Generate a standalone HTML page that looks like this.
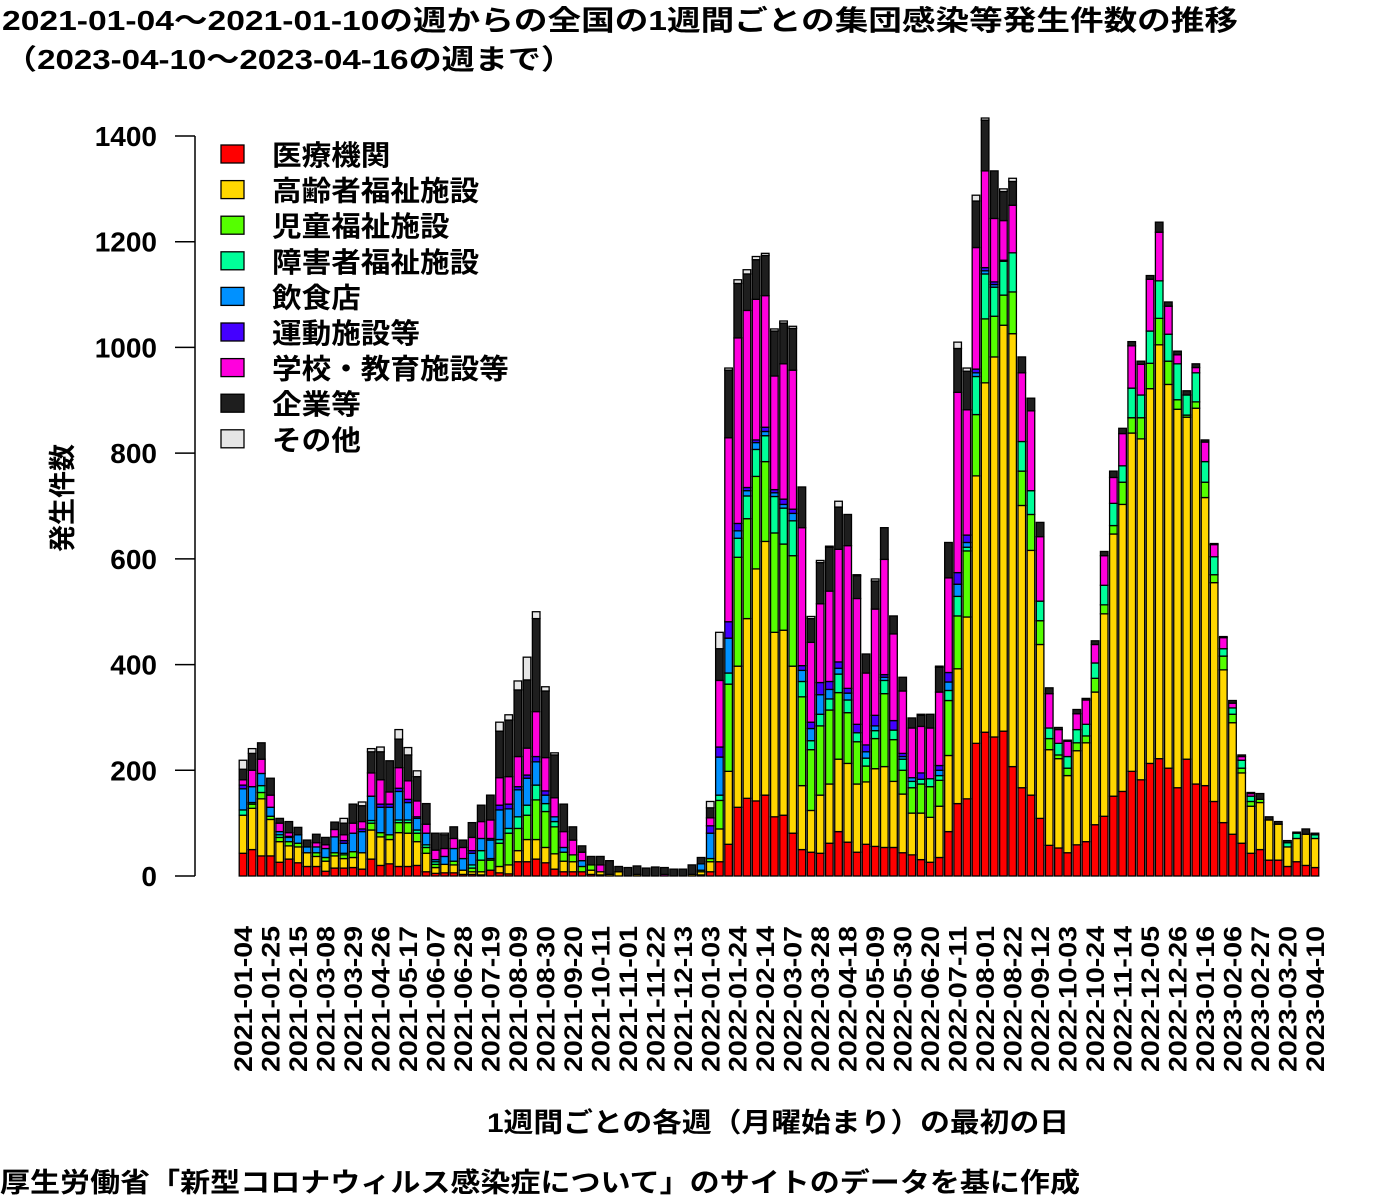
<!DOCTYPE html>
<html><head><meta charset="utf-8"><style>
html,body{margin:0;padding:0;background:#fff;}
svg{display:block;}
text{font-family:"Liberation Sans","Noto Sans CJK JP",sans-serif;}
</style></head><body>
<svg id="chart" width="1400" height="1200" viewBox="0 0 1400 1200" xmlns="http://www.w3.org/2000/svg">
<text x="2" y="30" font-size="28" font-weight="bold" textLength="1236" lengthAdjust="spacingAndGlyphs">2021-01-04～2021-01-10の週からの全国の1週間ごとの集団感染等発生件数の推移</text>
<text x="4" y="69" font-size="28" font-weight="bold" textLength="570" lengthAdjust="spacingAndGlyphs">（2023-04-10～2023-04-16の週まで）</text>
<g id="bars"></g>
<g id="yaxis"></g>
<g id="xaxis"></g>
<text transform="translate(72,498) rotate(-90)" text-anchor="middle" font-size="27" font-weight="bold">発生件数</text>
<text x="778" y="1132" text-anchor="middle" font-size="27" font-weight="bold" textLength="582" lengthAdjust="spacingAndGlyphs">1週間ごとの各週（月曜始まり）の最初の日</text>
<text x="0" y="1192" font-size="27" font-weight="bold" textLength="1080" lengthAdjust="spacingAndGlyphs">厚生労働省「新型コロナウィルス感染症について」のサイトのデータを基に作成</text>
<g id="legend"></g>
</svg>
<script>
const seriesNames = ["医療機関","高齢者福祉施設","児童福祉施設","障害者福祉施設","飲食店","運動施設等","学校・教育施設等","企業等","その他"];
const seriesColors = ["#ff0000","#ffd700","#55ff00","#00ff99","#0091ff","#4400ff","#ff00dd","#1e1e1e","#e6e6e6"];
const medical = [43,50,38,38,26,32,25,18,18,9,15,15,16,13,32,20,23,18,18,20,8,5,6,6,3,3,2,11,6,4,27,27,32,25,13,8,8,8,3,2,0,0,0,0,0,0,0,0,0,0,2,8,27,60,130,147,142,153,112,115,81,50,45,43,62,84,64,45,60,56,54,54,44,40,31,26,35,84,137,146,251,272,263,274,207,167,153,109,58,53,44,59,65,97,113,151,160,198,182,213,222,204,167,221,174,171,141,101,79,62,43,50,30,30,18,27,20,16];
const elderly = [72,78,108,69,39,25,30,26,19,19,23,18,19,31,55,54,46,64,63,45,35,11,16,15,8,5,6,0,12,17,21,42,37,29,29,20,19,0,8,6,3,8,0,3,0,0,0,0,0,3,6,19,62,138,267,340,439,480,349,350,316,121,79,110,112,137,149,129,118,147,153,125,111,79,88,85,97,144,255,344,506,661,719,768,819,534,463,329,181,169,146,178,187,251,383,496,543,640,645,709,783,726,716,647,711,545,414,289,211,133,89,89,76,68,37,44,59,55];
const child = [0,8,12,6,8,8,7,0,7,7,6,7,11,0,13,8,9,19,20,16,11,6,0,7,0,7,22,19,44,60,42,46,75,68,51,17,13,10,10,0,0,0,0,0,0,0,0,0,0,0,3,6,54,165,206,189,175,151,188,163,209,168,115,131,140,126,96,80,30,57,138,79,45,48,55,58,49,104,100,125,116,121,77,57,79,65,68,45,21,7,14,15,13,26,17,16,42,29,40,48,50,44,18,4,12,29,15,26,16,9,9,6,0,0,0,0,0,0];
const disabled = [10,3,13,0,5,0,0,0,0,0,0,3,0,0,5,0,0,5,5,6,5,5,0,0,0,6,18,3,7,9,22,19,28,15,10,0,0,0,0,0,0,0,0,0,0,0,0,0,0,0,0,0,10,21,36,43,51,49,69,68,66,29,17,22,21,35,24,17,15,15,25,18,21,12,9,15,9,19,37,7,72,85,55,64,74,56,45,37,20,22,22,25,22,29,37,42,31,56,43,61,71,51,68,38,55,39,34,14,12,15,10,0,0,0,8,10,0,7];
const restaurant = [40,30,23,17,6,8,16,11,11,17,30,19,35,40,46,48,52,54,33,22,22,4,15,24,22,22,23,35,56,37,51,51,44,16,9,9,0,11,0,0,0,0,0,0,0,0,0,0,0,0,12,48,72,66,14,10,13,8,7,7,14,21,23,37,18,11,13,0,12,9,6,0,5,7,0,0,10,16,23,9,7,6,5,2,0,0,0,0,0,0,0,0,0,0,0,0,0,0,0,0,0,0,0,0,0,0,0,0,0,0,0,0,0,0,0,0,0,0];
const sports = [7,0,0,0,0,2,0,0,0,0,0,5,0,5,0,6,6,6,6,3,0,0,0,0,0,5,0,3,9,9,6,6,10,8,0,0,0,0,0,0,0,0,0,0,0,0,0,0,0,0,0,14,19,31,14,6,5,8,6,10,8,9,12,23,15,12,9,16,13,20,5,18,6,0,12,0,9,18,22,14,7,6,5,0,0,0,0,0,0,0,0,0,0,0,0,0,0,0,0,0,0,0,0,0,0,0,0,0,0,0,0,0,0,0,0,0,0,0];
const school = [10,31,27,23,16,7,0,0,8,7,14,11,19,14,44,46,23,39,35,30,17,18,15,19,21,25,32,35,52,52,57,51,85,63,36,30,28,16,0,13,0,0,0,0,0,0,3,0,0,0,0,15,126,348,351,335,266,249,215,256,263,261,151,149,171,213,270,238,136,201,218,164,118,94,88,96,139,179,341,237,230,183,120,75,90,130,151,122,65,26,29,30,46,35,56,49,61,80,58,98,92,53,17,0,10,37,23,21,9,7,5,0,0,0,0,0,0,0];
const company = [20,32,31,32,9,21,14,13,16,14,14,22,36,30,40,53,59,54,49,46,39,32,26,22,14,28,31,47,88,107,126,129,176,126,81,52,25,12,16,16,26,10,16,16,15,17,13,13,13,18,12,19,60,128,103,69,75,76,85,77,79,77,45,78,83,80,59,43,36,53,60,34,26,19,21,26,47,67,83,73,88,96,90,55,45,30,24,27,11,4,2,8,3,7,8,12,10,8,6,7,19,8,7,8,7,4,2,2,5,3,2,11,6,5,4,2,10,3];
const other = [17,9,0,0,0,0,0,0,0,0,0,9,0,7,6,9,0,18,14,11,0,0,3,0,0,0,0,0,17,10,17,43,13,8,4,0,0,0,0,0,0,0,0,0,0,0,0,0,0,0,0,12,31,4,7,8,6,4,4,4,4,0,4,4,2,11,0,2,0,4,0,0,0,0,2,0,2,0,12,6,11,4,0,5,6,0,0,0,0,0,0,0,0,0,0,0,0,0,0,0,0,0,0,0,0,0,0,0,0,0,0,0,0,0,0,0,0,0];
const dateLabels = ["2021-01-04","2021-01-25","2021-02-15","2021-03-08","2021-03-29","2021-04-26","2021-05-17","2021-06-07","2021-06-28","2021-07-19","2021-08-09","2021-08-30","2021-09-20","2021-10-11","2021-11-01","2021-11-22","2021-12-13","2022-01-03","2022-01-24","2022-02-14","2022-03-07","2022-03-28","2022-04-18","2022-05-09","2022-05-30","2022-06-20","2022-07-11","2022-08-01","2022-08-22","2022-09-12","2022-10-03","2022-10-24","2022-11-14","2022-12-05","2022-12-26","2023-01-16","2023-02-06","2023-02-27","2023-03-20","2023-04-10"];
const yTicks = [0,200,400,600,800,1000,1200,1400];

const series = [medical,elderly,child,disabled,restaurant,sports,school,company,other];
const NS = "http://www.w3.org/2000/svg";
const X0 = 243, DX = 9.162, BW = 7.6;
const Y0 = 876, YPX = 740/1400;
function xPos(i){ return X0 + DX*i; }
function yPos(v){ return Y0 - v*YPX; }

const barsG = document.getElementById('bars');
const n = medical.length;
for (let i=0;i<n;i++){
  const g = document.createElementNS(NS,'g');
  
  
  let cum = 0;
  for (let s=0;s<series.length;s++){
    const v = series[s][i];
    if (!v) continue;
    const r = document.createElementNS(NS,'rect');
    
    
    const yt = yPos(cum+v), yb = yPos(cum);
    r.setAttribute('x', xPos(i)-BW/2);
    r.setAttribute('y', yt);
    r.setAttribute('width', BW);
    r.setAttribute('height', yb-yt);
    r.setAttribute('fill', seriesColors[s]);
    r.setAttribute('stroke', '#000');
    r.setAttribute('stroke-width', '1.3');
    g.appendChild(r);
    cum += v;
  }
  barsG.appendChild(g);
}

const ya = document.getElementById('yaxis');
const axl = document.createElementNS(NS,'line');


axl.setAttribute('x1',195); axl.setAttribute('x2',195);
axl.setAttribute('y1',yPos(1400)); axl.setAttribute('y2',yPos(0));
axl.setAttribute('stroke','#000'); axl.setAttribute('stroke-width','1.5');
ya.appendChild(axl);
for (const t of yTicks){
  const l = document.createElementNS(NS,'line');
  
  
  l.setAttribute('x1',175); l.setAttribute('x2',195);
  l.setAttribute('y1',yPos(t)); l.setAttribute('y2',yPos(t));
  l.setAttribute('stroke','#000'); l.setAttribute('stroke-width','1.5');
  ya.appendChild(l);
  const tx = document.createElementNS(NS,'text');
  
  
  tx.setAttribute('x',157); tx.setAttribute('y',yPos(t)+10);
  tx.setAttribute('text-anchor','end');
  tx.setAttribute('font-size','28'); tx.setAttribute('font-weight','bold');
  tx.textContent = t;
  ya.appendChild(tx);
}

const xa = document.getElementById('xaxis');
for (let k=0;k<dateLabels.length;k++){
  const xi = xPos(k*3);
  const tx = document.createElementNS(NS,'text');
  
  
  tx.setAttribute('transform','translate('+(xi+9)+',926) rotate(-90)');
  tx.setAttribute('text-anchor','end');
  tx.setAttribute('font-size','25'); tx.setAttribute('font-weight','bold');
  tx.setAttribute('textLength','146'); tx.setAttribute('lengthAdjust','spacingAndGlyphs');
  tx.textContent = dateLabels[k];
  xa.appendChild(tx);
}

const lg = document.getElementById('legend');
for (let s=0;s<seriesNames.length;s++){
  const cy = 154 + s*35.6;
  const r = document.createElementNS(NS,'rect');
  
  
  r.setAttribute('x',221); r.setAttribute('y',cy-9);
  r.setAttribute('width',23); r.setAttribute('height',18);
  r.setAttribute('fill',seriesColors[s]); r.setAttribute('stroke','#000'); r.setAttribute('stroke-width','1.3');
  lg.appendChild(r);
  const tx = document.createElementNS(NS,'text');
  
  
  tx.setAttribute('x',272); tx.setAttribute('y',cy+11);
  tx.setAttribute('font-size','28'); tx.setAttribute('font-weight','bold');
  tx.setAttribute('textLength', String(seriesNames[s].length*29.6));
  tx.setAttribute('lengthAdjust','spacingAndGlyphs');
  tx.textContent = seriesNames[s];
  lg.appendChild(tx);
}
</script>
</body></html>
